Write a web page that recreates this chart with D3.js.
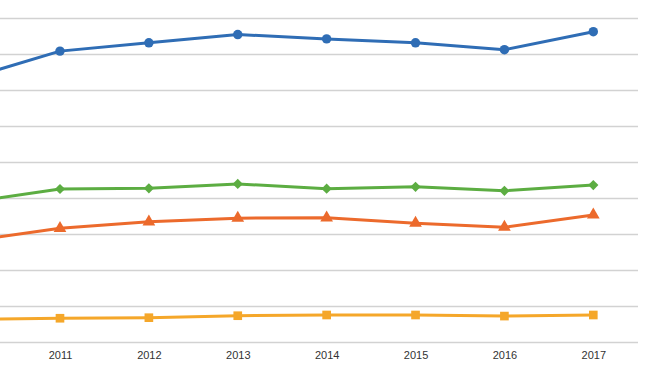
<!DOCTYPE html>
<html>
<head>
<meta charset="utf-8">
<script src="https://cdn.jsdelivr.net/npm/d3@7"></script>
<style>
  html, body { margin: 0; padding: 0; background: #fff; }
  svg { display: block; }
</style>
</head>
<body>
<svg id="chart" width="650" height="366"></svg>
<script>
// Data (2010 is partly off the left edge)
const years = ["2010", "2011", "2012", "2013", "2014", "2015", "2016", "2017"];
const blueSeries   = [73.4, 80.8, 83.1, 85.4, 84.2, 83.1, 81.2, 86.2];
const greenSeries  = [38.9, 42.5, 42.7, 43.9, 42.6, 43.1, 42.0, 43.6];
const orangeSeries = [28.1, 31.6, 33.4, 34.4, 34.5, 33.0, 31.9, 35.3];
const yellowSeries = [6.3, 6.6, 6.75, 7.3, 7.5, 7.5, 7.2, 7.5];
const yTicks = [0, 10, 20, 30, 40, 50, 60, 70, 80, 90];
const xLabels = ["2011", "2012", "2013", "2014", "2015", "2016", "2017"];

const svg = d3.select("#chart");
const W = 650, H = 366;

const x = d3.scalePoint().domain(years).range([-28.9, 593.3]);
const y = d3.scaleLinear().domain([0, 90]).range([342, 18]);

svg.append("defs").append("clipPath").attr("id", "plotClip")
  .append("rect").attr("x", 0).attr("y", 0).attr("width", 640).attr("height", H);

// gridlines
svg.append("g").selectAll("line").data(yTicks).join("line")
  .attr("x1", 0).attr("x2", 638)
  .attr("y1", d => Math.round(y(d)) + 0.5).attr("y2", d => Math.round(y(d)) + 0.5)
  .attr("stroke", "#d2d2d2").attr("stroke-width", 1.6);

// x axis labels
const xAxis = d3.axisBottom(x).tickValues(xLabels).tickSize(0).tickPadding(0);
const gx = svg.append("g").attr("transform", "translate(0,351)").call(xAxis);
gx.select(".domain").remove();
gx.selectAll("text")
  .attr("font-family", "Liberation Sans, Arial, sans-serif")
  .attr("font-size", 11).attr("fill", "#333").attr("dy", "0.71em");

const series = [
  { values: blueSeries,   color: "#2f6db5", marker: "circle" },
  { values: greenSeries,  color: "#5cad42", marker: "diamond" },
  { values: orangeSeries, color: "#ec6a2c", marker: "triangle" },
  { values: yellowSeries, color: "#f5a72a", marker: "square" }
];

const line = d3.line().x((d, i) => x(years[i])).y(d => y(d));
const plot = svg.append("g").attr("clip-path", "url(#plotClip)");

const symbolMap = {
  circle:   d3.symbol().type(d3.symbolCircle).size(70),
  diamond:  d3.symbol().type(d3.symbolDiamond2 || d3.symbolDiamond).size(80),
  triangle: d3.symbol().type(d3.symbolTriangle).size(70),
  square:   d3.symbol().type(d3.symbolSquare).size(75)
};

series.forEach(s => {
  plot.append("path").datum(s.values)
    .attr("d", line)
    .attr("fill", "none")
    .attr("stroke", s.color)
    .attr("stroke-width", 3)
    .attr("stroke-linejoin", "round");
  const sym = s.marker === "diamond"
    ? d3.symbol().type(d3.symbolSquare).size(52)
    : symbolMap[s.marker];
  plot.append("g").selectAll("path").data(s.values).join("path")
    .attr("d", sym)
    .attr("transform", (d, i) => `translate(${x(years[i])},${y(d)})` + (s.marker === "diamond" ? " rotate(45)" : ""))
    .attr("fill", s.color);
});
</script>
</body>
</html>
